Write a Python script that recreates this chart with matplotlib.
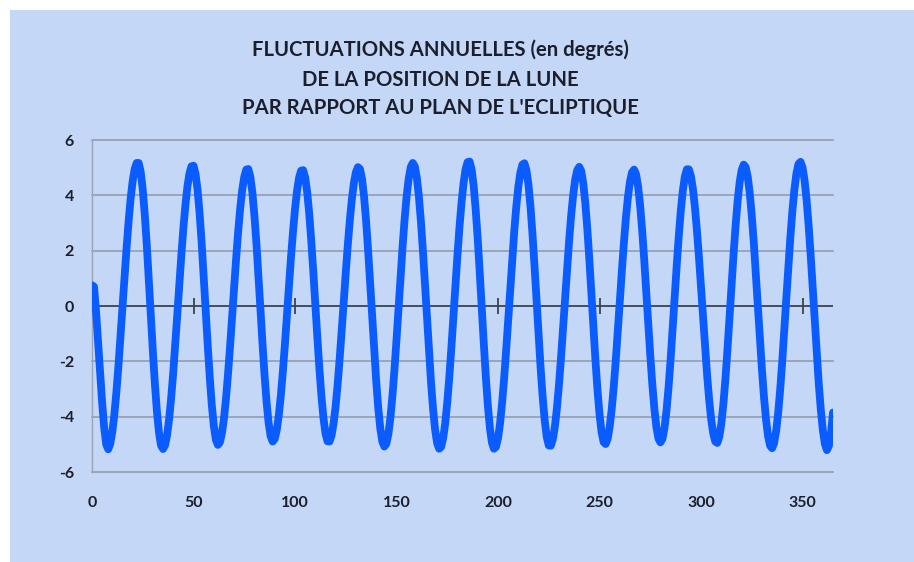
import matplotlib
matplotlib.use("Agg")
import matplotlib.pyplot as plt
from matplotlib.patches import Rectangle

# Latitude ecliptique de la Lune, une valeur par jour (jour 0 a 365)
days = list(range(366))
latitude_deg = [
    # 0
    0.75, 0.70, -0.20, -1.30, -2.40, -3.50, -4.40, -5.00, -5.18, -4.98,
    -4.55, -3.93, -3.12, -2.19, -1.13, -0.05, 1.04, 2.07, 3.03, 3.86,
    4.50, 4.95, 5.17, 5.17, 4.84, 4.20, 3.30, 2.19, 0.94, -0.37,
    -1.66, -2.84, -3.83, -4.58, -5.04, -5.17, -5.03, -4.66, -4.08, -3.32,
    -2.42, -1.39, -0.32, 0.78, 1.83, 2.81, 3.64, 4.32, 4.79, 5.05,
    # 50
    5.07, 4.78, 4.20, 3.35, 2.30, 1.10, -0.16, -1.41, -2.57, -3.57,
    -4.33, -4.83, -5.02, -4.93, -4.60, -4.07, -3.34, -2.46, -1.47, -0.40,
    0.68, 1.72, 2.69, 3.53, 4.20, 4.67, 4.93, 4.95, 4.67, 4.10,
    3.27, 2.25, 1.08, -0.15, -1.38, -2.51, -3.48, -4.23, -4.71, -4.90,
    -4.81, -4.49, -3.96, -3.25, -2.38, -1.41, -0.35, 0.71, 1.74, 2.68,
    # 100
    3.51, 4.17, 4.64, 4.89, 4.91, 4.65, 4.11, 3.34, 2.36, 1.25,
    0.06, -1.13, -2.25, -3.25, -4.04, -4.61, -4.89, -4.90, -4.68, -4.24,
    -3.62, -2.83, -1.90, -0.89, 0.15, 1.21, 2.20, 3.10, 3.86, 4.45,
    4.84, 5.02, 4.95, 4.60, 3.96, 3.09, 2.02, 0.83, -0.39, -1.61,
    -2.72, -3.69, -4.42, -4.90, -5.08, -4.98, -4.62, -4.03, -3.24, -2.28,
    # 150
    -1.21, -0.07, 1.07, 2.16, 3.15, 3.98, 4.61, 5.02, 5.17, 5.05,
    4.64, 3.97, 3.07, 2.00, 0.80, -0.43, -1.64, -2.76, -3.72, -4.47,
    -4.96, -5.16, -5.09, -4.77, -4.23, -3.48, -2.57, -1.53, -0.41, 0.72,
    1.82, 2.84, 3.72, 4.43, 4.94, 5.20, 5.22, 4.94, 4.34, 3.48,
    2.42, 1.20, -0.09, -1.37, -2.57, -3.60, -4.41, -4.94, -5.16, -5.09,
    # 200
    -4.78, -4.24, -3.51, -2.62, -1.60, -0.51, 0.61, 1.70, 2.71, 3.60,
    4.31, 4.82, 5.11, 5.16, 4.91, 4.38, 3.58, 2.57, 1.41, 0.17,
    -1.08, -2.26, -3.30, -4.14, -4.74, -5.04, -5.05, -4.82, -4.36, -3.70,
    -2.86, -1.90, -0.84, 0.25, 1.32, 2.34, 3.25, 4.00, 4.57, 4.91,
    5.03, 4.88, 4.43, 3.71, 2.77, 1.66, 0.45, -0.79, -1.98, -3.04,
    # 250
    -3.92, -4.56, -4.92, -4.99, -4.80, -4.37, -3.73, -2.92, -1.96, -0.91,
    0.18, 1.27, 2.29, 3.20, 3.94, 4.50, 4.83, 4.93, 4.76, 4.32,
    3.63, 2.74, 1.68, 0.53, -0.65, -1.79, -2.83, -3.71, -4.37, -4.79,
    -4.93, -4.80, -4.41, -3.77, -2.94, -1.94, -0.84, 0.31, 1.44, 2.50,
    3.42, 4.15, 4.67, 4.94, 4.94, 4.70, 4.23, 3.56, 2.71, 1.73,
    # 300
    0.66, -0.44, -1.50, -2.51, -3.39, -4.10, -4.61, -4.90, -4.95, -4.73,
    -4.25, -3.55, -2.64, -1.59, -0.45, 0.71, 1.85, 2.89, 3.78, 4.47,
    4.91, 5.11, 5.02, 4.67, 4.08, 3.26, 2.27, 1.15, -0.02, -1.18,
    -2.30, -3.29, -4.10, -4.70, -5.05, -5.14, -4.95, -4.52, -3.86, -3.01,
    -2.00, -0.89, 0.27, 1.41, 2.49, 3.44, 4.22, 4.80, 5.13, 5.21,
    # 350
    5.01, 4.54, 3.83, 2.91, 1.84, 0.66, -0.55, -1.73, -2.82, -3.75,
    -4.49, -4.99, -5.21, -5.05, -4.60, -3.85,
]

x_ticks = [0, 50, 100, 150, 200, 250, 300, 350]
y_ticks = [-6, -4, -2, 0, 2, 4, 6]
title_lines = [
    "FLUCTUATIONS ANNUELLES (en degrés)",
    "DE LA POSITION DE LA LUNE",
    "PAR RAPPORT AU PLAN DE L'ECLIPTIQUE",
]

BG = "#c4d7f6"
LINE = "#0a5cff"
GRID = "#8e99aa"
AXIS = "#3c4350"
TXT = "#1b1e2c"
FONT = ["Lato", "DejaVu Sans"]

fig = plt.figure(figsize=(9.14, 5.62), dpi=100)
fig.patch.set_facecolor("white")
# fond bleu clair avec une petite marge blanche en haut et a gauche
bg = Rectangle((10 / 914, 0), 1 - 10 / 914, 1 - 10 / 562,
               transform=fig.transFigure, facecolor=BG, edgecolor="none",
               zorder=-10)
fig.add_artist(bg)

ax = fig.add_axes([92 / 914, 1 - 472 / 562, (833 - 92) / 914, (472 - 140) / 562])
ax.set_facecolor("none")
ax.set_zorder(1)
ax.set_xlim(0, 365)
ax.set_ylim(-6, 6)

for s in ["top", "right", "bottom"]:
    ax.spines[s].set_visible(False)
ax.spines["left"].set_color("#9aa4b4")
ax.spines["left"].set_linewidth(1.0)

# lignes horizontales de la grille (y compris les bords a -6 et 6)
for y in y_ticks:
    if y != 0:
        ax.axhline(y, color=GRID, lw=1.1, zorder=1, clip_on=False)

# axe horizontal a zero avec ses graduations
ax.axhline(0, color=AXIS, lw=1.3, zorder=2)
ax.plot(x_ticks, [0] * len(x_ticks), ls="none", marker="|", ms=11,
        mew=1.3, color=AXIS, zorder=2)

ax.plot(days, latitude_deg, color=LINE, lw=5.6, solid_capstyle="round",
        solid_joinstyle="round", zorder=3)

ax.set_xticks(x_ticks)
ax.set_yticks(y_ticks)
ax.set_xticklabels([str(v) for v in x_ticks])
ax.set_yticklabels([str(v) for v in y_ticks])
ax.tick_params(axis="both", length=0, labelsize=11.5, colors=TXT)
ax.tick_params(axis="x", pad=17)
ax.tick_params(axis="y", pad=13)
for lab in ax.get_xticklabels() + ax.get_yticklabels():
    lab.set_fontfamily(FONT)
    lab.set_fontweight("bold")

title_y = [50, 80, 108]
for line, yp in zip(title_lines, title_y):
    fig.text(440 / 914, 1 - yp / 562, line, ha="center", va="center",
             fontsize=14.6, fontweight="bold", color=TXT, family=FONT)

fig.savefig("out.png", dpi=100, facecolor=fig.get_facecolor())
